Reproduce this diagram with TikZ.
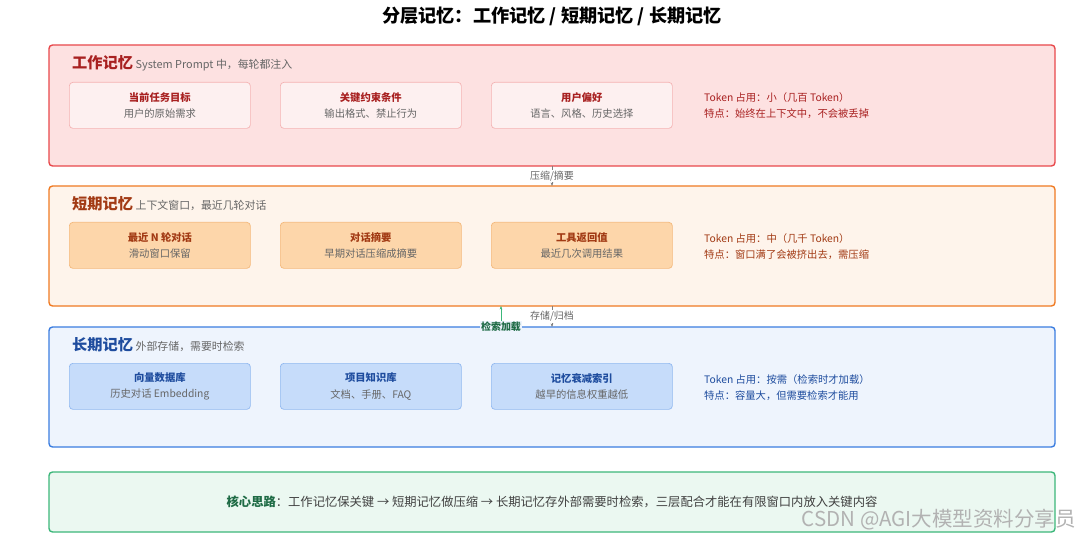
\documentclass[tikz,border=0pt]{standalone}
\usepackage{fontspec}
\setmainfont{Noto Sans CJK SC}
\usetikzlibrary{arrows.meta}

\definecolor{wkFill}{HTML}{FDE1E1}\definecolor{wkLine}{HTML}{E8484B}
\definecolor{wkCard}{HTML}{FDF0F0}\definecolor{wkCardLine}{HTML}{F4B4B4}\definecolor{wkText}{HTML}{A82020}
\definecolor{stFill}{HTML}{FEF4EB}\definecolor{stLine}{HTML}{F07A22}
\definecolor{stCard}{HTML}{FDD6AA}\definecolor{stCardLine}{HTML}{F4B97C}\definecolor{stText}{HTML}{A23A14}
\definecolor{ltFill}{HTML}{EEF4FD}\definecolor{ltLine}{HTML}{3B7DE0}
\definecolor{ltCard}{HTML}{C6DCFA}\definecolor{ltCardLine}{HTML}{92B9F0}\definecolor{ltText}{HTML}{1E4C9E}
\definecolor{coFill}{HTML}{EBF8F1}\definecolor{coLine}{HTML}{3CB77A}\definecolor{coText}{HTML}{1E6B45}
\definecolor{subGray}{HTML}{666666}

\tikzset{
    layer/.style={draw=#1Line,fill=#1Fill,line width=1.2pt,rounded corners=3pt},
    card/.style={draw=#1CardLine,fill=#1Card,line width=0.6pt,rounded corners=3pt,
        minimum width=5.43cm,minimum height=1.38cm,anchor=north west,align=center,
        font=\fontsize{8.8}{14}\selectfont,text=subGray},
    flow/.style={-{Stealth[length=3pt]},gray,line width=0.4pt},
    flowlabel/.style={font=\fontsize{8.5}{10}\selectfont,text=subGray,fill=white,inner sep=1pt}
}

\begin{document}
\begin{tikzpicture}[x=0.03cm,y=-0.03cm]
    \useasboundingbox[fill=white] (0,0) rectangle (1081,538);

    \node (title) at (552,16) {\fontsize{15.5}{17}\selectfont\bfseries 分层记忆：工作记忆 / 短期记忆 / 长期记忆};

    % three layers
    \draw [layer=wk] (49,45) rectangle (1055,166);
    \draw [layer=st] (49,186) rectangle (1055,306);
    \draw [layer=lt] (49,327) rectangle (1055,447);
    \draw [layer=co] (49,472) rectangle (1055,532);

    \coordinate (wkBot) at (552,166);  \coordinate (stTop) at (552,186);
    \coordinate (stBot) at (552,306);  \coordinate (ltTop) at (552,327);
    \coordinate (stBotL) at (501,306); \coordinate (ltTopL) at (501,327);
    \draw [flow] (wkBot) -- (stTop) node [midway,flowlabel] {压缩/摘要};
    \draw [flow] (stBot) -- (ltTop) node [midway,flowlabel] {存储/归档};
    \draw [flow,draw=coLine,-{Stealth[length=3pt]}] (ltTopL) -- (stBotL);
    \node [flowlabel,text=coText,font=\fontsize{8.5}{10}\selectfont\bfseries,fill=ltFill] (fetch) at (501,327) {检索加载};

    % working memory
    \node [anchor=west] (wkHead) at (68,63) {{\fontsize{13}{15}\selectfont\bfseries\color{wkText}工作记忆} {\fontsize{9.3}{11}\selectfont\color{subGray}System Prompt 中，每轮都注入}};
    \node [card=wk] (wkA) at (69,82)  {{\bfseries\color{wkText}当前任务目标}\\用户的原始需求};
    \node [card=wk] (wkB) at (280,82) {{\bfseries\color{wkText}关键约束条件}\\输出格式、禁止行为};
    \node [card=wk] (wkC) at (491,82) {{\bfseries\color{wkText}用户偏好}\\语言、风格、历史选择};
    \node [anchor=north west,align=left,text=wkText,font=\fontsize{8.8}{13}\selectfont] (wkNote) at (700,89) {Token 占用：小（几百 Token）\\特点：始终在上下文中，不会被丢掉};

    % short-term memory
    \node [anchor=west] (stHead) at (68,204) {{\fontsize{13}{15}\selectfont\bfseries\color{stText}短期记忆} {\fontsize{9.3}{11}\selectfont\color{subGray}上下文窗口，最近几轮对话}};
    \node [card=st] (stA) at (69,222)  {{\bfseries\color{stText}最近 N 轮对话}\\滑动窗口保留};
    \node [card=st] (stB) at (280,222) {{\bfseries\color{stText}对话摘要}\\早期对话压缩成摘要};
    \node [card=st] (stC) at (491,222) {{\bfseries\color{stText}工具返回值}\\最近几次调用结果};
    \node [anchor=north west,align=left,text=stText,font=\fontsize{8.8}{13}\selectfont] (stNote) at (700,230) {Token 占用：中（几千 Token）\\特点：窗口满了会被挤出去，需压缩};

    % long-term memory
    \node [anchor=west] (ltHead) at (68,345) {{\fontsize{13}{15}\selectfont\bfseries\color{ltText}长期记忆} {\fontsize{9.3}{11}\selectfont\color{subGray}外部存储，需要时检索}};
    \node [card=lt] (ltA) at (69,363)  {{\bfseries\color{ltText}向量数据库}\\历史对话 Embedding};
    \node [card=lt] (ltB) at (280,363) {{\bfseries\color{ltText}项目知识库}\\文档、手册、FAQ};
    \node [card=lt] (ltC) at (491,363) {{\bfseries\color{ltText}记忆衰减索引}\\越早的信息权重越低};
    \node [anchor=north west,align=left,text=ltText,font=\fontsize{8.8}{13}\selectfont] (ltNote) at (700,371) {Token 占用：按需（检索时才加载）\\特点：容量大，但需要检索才能用};

    % core idea
    \node [font=\fontsize{10.5}{12}\selectfont,text=black!75] (core) at (552,502) {{\bfseries\color{coText}核心思路}：工作记忆保关键 → 短期记忆做压缩 → 长期记忆存外部需要时检索，三层配合才能在有限窗口内放入关键内容};
    \node [anchor=east,font=\fontsize{17.5}{19}\selectfont,text=black!30] (mark) at (1080,520) {CSDN @AGI大模型资料分享员};
\end{tikzpicture}
\end{document}
